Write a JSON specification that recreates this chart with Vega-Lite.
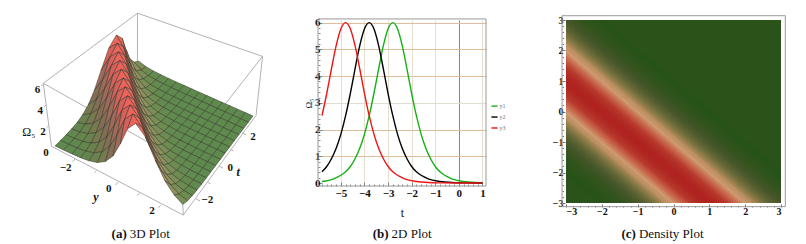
{"$schema":"https://vega.github.io/schema/vega-lite/v6.json","background":"white","padding":{"left":0,"top":11,"right":0,"bottom":0},"spacing":80,"bounds":"flush","config":{"view":{"stroke":null},"axis":{"labelFont":"Liberation Serif","titleFont":"Liberation Serif","labelColor":"#111","titleColor":"#111","titleFontWeight":"normal"}},
"datasets":{"surface":[
{"y":-3,"t":-3,"v":0.008},{"y":-3,"t":-2.6,"v":0.018},{"y":-3,"t":-2.2,"v":0.04},{"y":-3,"t":-1.8,"v":0.088},{"y":-3,"t":-1.4,"v":0.19},{"y":-3,"t":-1,"v":0.42},{"y":-3,"t":-0.6,"v":0.91},{"y":-3,"t":-0.2,"v":1.83},{"y":-3,"t":0.2,"v":3.35},{"y":-3,"t":0.6,"v":5.14},{"y":-3,"t":1,"v":6},{"y":-3,"t":1.4,"v":5.14},{"y":-3,"t":1.8,"v":3.35},{"y":-3,"t":2.2,"v":1.83},{"y":-3,"t":2.6,"v":0.91},{"y":-3,"t":3,"v":0.42},
{"y":-2.6,"t":-3,"v":0.018},{"y":-2.6,"t":-2.6,"v":0.04},{"y":-2.6,"t":-2.2,"v":0.088},{"y":-2.6,"t":-1.8,"v":0.19},{"y":-2.6,"t":-1.4,"v":0.42},{"y":-2.6,"t":-1,"v":0.91},{"y":-2.6,"t":-0.6,"v":1.83},{"y":-2.6,"t":-0.2,"v":3.35},{"y":-2.6,"t":0.2,"v":5.14},{"y":-2.6,"t":0.6,"v":6},{"y":-2.6,"t":1,"v":5.14},{"y":-2.6,"t":1.4,"v":3.35},{"y":-2.6,"t":1.8,"v":1.83},{"y":-2.6,"t":2.2,"v":0.91},{"y":-2.6,"t":2.6,"v":0.42},{"y":-2.6,"t":3,"v":0.19},
{"y":-2.2,"t":-3,"v":0.04},{"y":-2.2,"t":-2.6,"v":0.088},{"y":-2.2,"t":-2.2,"v":0.19},{"y":-2.2,"t":-1.8,"v":0.42},{"y":-2.2,"t":-1.4,"v":0.91},{"y":-2.2,"t":-1,"v":1.83},{"y":-2.2,"t":-0.6,"v":3.35},{"y":-2.2,"t":-0.2,"v":5.14},{"y":-2.2,"t":0.2,"v":6},{"y":-2.2,"t":0.6,"v":5.14},{"y":-2.2,"t":1,"v":3.35},{"y":-2.2,"t":1.4,"v":1.83},{"y":-2.2,"t":1.8,"v":0.91},{"y":-2.2,"t":2.2,"v":0.42},{"y":-2.2,"t":2.6,"v":0.19},{"y":-2.2,"t":3,"v":0.088},
{"y":-1.8,"t":-3,"v":0.088},{"y":-1.8,"t":-2.6,"v":0.19},{"y":-1.8,"t":-2.2,"v":0.42},{"y":-1.8,"t":-1.8,"v":0.91},{"y":-1.8,"t":-1.4,"v":1.83},{"y":-1.8,"t":-1,"v":3.35},{"y":-1.8,"t":-0.6,"v":5.14},{"y":-1.8,"t":-0.2,"v":6},{"y":-1.8,"t":0.2,"v":5.14},{"y":-1.8,"t":0.6,"v":3.35},{"y":-1.8,"t":1,"v":1.83},{"y":-1.8,"t":1.4,"v":0.91},{"y":-1.8,"t":1.8,"v":0.42},{"y":-1.8,"t":2.2,"v":0.19},{"y":-1.8,"t":2.6,"v":0.088},{"y":-1.8,"t":3,"v":0.04},
{"y":-1.4,"t":-3,"v":0.19},{"y":-1.4,"t":-2.6,"v":0.42},{"y":-1.4,"t":-2.2,"v":0.91},{"y":-1.4,"t":-1.8,"v":1.83},{"y":-1.4,"t":-1.4,"v":3.35},{"y":-1.4,"t":-1,"v":5.14},{"y":-1.4,"t":-0.6,"v":6},{"y":-1.4,"t":-0.2,"v":5.14},{"y":-1.4,"t":0.2,"v":3.35},{"y":-1.4,"t":0.6,"v":1.83},{"y":-1.4,"t":1,"v":0.91},{"y":-1.4,"t":1.4,"v":0.42},{"y":-1.4,"t":1.8,"v":0.19},{"y":-1.4,"t":2.2,"v":0.088},{"y":-1.4,"t":2.6,"v":0.04},{"y":-1.4,"t":3,"v":0.018},
{"y":-1,"t":-3,"v":0.42},{"y":-1,"t":-2.6,"v":0.91},{"y":-1,"t":-2.2,"v":1.83},{"y":-1,"t":-1.8,"v":3.35},{"y":-1,"t":-1.4,"v":5.14},{"y":-1,"t":-1,"v":6},{"y":-1,"t":-0.6,"v":5.14},{"y":-1,"t":-0.2,"v":3.35},{"y":-1,"t":0.2,"v":1.83},{"y":-1,"t":0.6,"v":0.91},{"y":-1,"t":1,"v":0.42},{"y":-1,"t":1.4,"v":0.19},{"y":-1,"t":1.8,"v":0.088},{"y":-1,"t":2.2,"v":0.04},{"y":-1,"t":2.6,"v":0.018},{"y":-1,"t":3,"v":0.008},
{"y":-0.6,"t":-3,"v":0.91},{"y":-0.6,"t":-2.6,"v":1.83},{"y":-0.6,"t":-2.2,"v":3.35},{"y":-0.6,"t":-1.8,"v":5.14},{"y":-0.6,"t":-1.4,"v":6},{"y":-0.6,"t":-1,"v":5.14},{"y":-0.6,"t":-0.6,"v":3.35},{"y":-0.6,"t":-0.2,"v":1.83},{"y":-0.6,"t":0.2,"v":0.91},{"y":-0.6,"t":0.6,"v":0.42},{"y":-0.6,"t":1,"v":0.19},{"y":-0.6,"t":1.4,"v":0.088},{"y":-0.6,"t":1.8,"v":0.04},{"y":-0.6,"t":2.2,"v":0.018},{"y":-0.6,"t":2.6,"v":0.008},{"y":-0.6,"t":3,"v":0.004},
{"y":-0.2,"t":-3,"v":1.83},{"y":-0.2,"t":-2.6,"v":3.35},{"y":-0.2,"t":-2.2,"v":5.14},{"y":-0.2,"t":-1.8,"v":6},{"y":-0.2,"t":-1.4,"v":5.14},{"y":-0.2,"t":-1,"v":3.35},{"y":-0.2,"t":-0.6,"v":1.83},{"y":-0.2,"t":-0.2,"v":0.91},{"y":-0.2,"t":0.2,"v":0.42},{"y":-0.2,"t":0.6,"v":0.19},{"y":-0.2,"t":1,"v":0.088},{"y":-0.2,"t":1.4,"v":0.04},{"y":-0.2,"t":1.8,"v":0.018},{"y":-0.2,"t":2.2,"v":0.008},{"y":-0.2,"t":2.6,"v":0.004},{"y":-0.2,"t":3,"v":0.002},
{"y":0.2,"t":-3,"v":3.35},{"y":0.2,"t":-2.6,"v":5.14},{"y":0.2,"t":-2.2,"v":6},{"y":0.2,"t":-1.8,"v":5.14},{"y":0.2,"t":-1.4,"v":3.35},{"y":0.2,"t":-1,"v":1.83},{"y":0.2,"t":-0.6,"v":0.91},{"y":0.2,"t":-0.2,"v":0.42},{"y":0.2,"t":0.2,"v":0.19},{"y":0.2,"t":0.6,"v":0.088},{"y":0.2,"t":1,"v":0.04},{"y":0.2,"t":1.4,"v":0.018},{"y":0.2,"t":1.8,"v":0.008},{"y":0.2,"t":2.2,"v":0.004},{"y":0.2,"t":2.6,"v":0.002},{"y":0.2,"t":3,"v":0.001},
{"y":0.6,"t":-3,"v":5.14},{"y":0.6,"t":-2.6,"v":6},{"y":0.6,"t":-2.2,"v":5.14},{"y":0.6,"t":-1.8,"v":3.35},{"y":0.6,"t":-1.4,"v":1.83},{"y":0.6,"t":-1,"v":0.91},{"y":0.6,"t":-0.6,"v":0.42},{"y":0.6,"t":-0.2,"v":0.19},{"y":0.6,"t":0.2,"v":0.088},{"y":0.6,"t":0.6,"v":0.04},{"y":0.6,"t":1,"v":0.018},{"y":0.6,"t":1.4,"v":0.008},{"y":0.6,"t":1.8,"v":0.004},{"y":0.6,"t":2.2,"v":0.002},{"y":0.6,"t":2.6,"v":0.001},{"y":0.6,"t":3,"v":0.001},
{"y":1,"t":-3,"v":6},{"y":1,"t":-2.6,"v":5.14},{"y":1,"t":-2.2,"v":3.35},{"y":1,"t":-1.8,"v":1.83},{"y":1,"t":-1.4,"v":0.91},{"y":1,"t":-1,"v":0.42},{"y":1,"t":-0.6,"v":0.19},{"y":1,"t":-0.2,"v":0.088},{"y":1,"t":0.2,"v":0.04},{"y":1,"t":0.6,"v":0.018},{"y":1,"t":1,"v":0.008},{"y":1,"t":1.4,"v":0.004},{"y":1,"t":1.8,"v":0.002},{"y":1,"t":2.2,"v":0.001},{"y":1,"t":2.6,"v":0.001},{"y":1,"t":3,"v":0.001},
{"y":1.4,"t":-3,"v":5.14},{"y":1.4,"t":-2.6,"v":3.35},{"y":1.4,"t":-2.2,"v":1.83},{"y":1.4,"t":-1.8,"v":0.91},{"y":1.4,"t":-1.4,"v":0.42},{"y":1.4,"t":-1,"v":0.19},{"y":1.4,"t":-0.6,"v":0.088},{"y":1.4,"t":-0.2,"v":0.04},{"y":1.4,"t":0.2,"v":0.018},{"y":1.4,"t":0.6,"v":0.008},{"y":1.4,"t":1,"v":0.004},{"y":1.4,"t":1.4,"v":0.002},{"y":1.4,"t":1.8,"v":0.001},{"y":1.4,"t":2.2,"v":0.001},{"y":1.4,"t":2.6,"v":0.001},{"y":1.4,"t":3,"v":0.001},
{"y":1.8,"t":-3,"v":3.35},{"y":1.8,"t":-2.6,"v":1.83},{"y":1.8,"t":-2.2,"v":0.91},{"y":1.8,"t":-1.8,"v":0.42},{"y":1.8,"t":-1.4,"v":0.19},{"y":1.8,"t":-1,"v":0.088},{"y":1.8,"t":-0.6,"v":0.04},{"y":1.8,"t":-0.2,"v":0.018},{"y":1.8,"t":0.2,"v":0.008},{"y":1.8,"t":0.6,"v":0.004},{"y":1.8,"t":1,"v":0.002},{"y":1.8,"t":1.4,"v":0.001},{"y":1.8,"t":1.8,"v":0.001},{"y":1.8,"t":2.2,"v":0.001},{"y":1.8,"t":2.6,"v":0.001},{"y":1.8,"t":3,"v":0.001},
{"y":2.2,"t":-3,"v":1.83},{"y":2.2,"t":-2.6,"v":0.91},{"y":2.2,"t":-2.2,"v":0.42},{"y":2.2,"t":-1.8,"v":0.19},{"y":2.2,"t":-1.4,"v":0.088},{"y":2.2,"t":-1,"v":0.04},{"y":2.2,"t":-0.6,"v":0.018},{"y":2.2,"t":-0.2,"v":0.008},{"y":2.2,"t":0.2,"v":0.004},{"y":2.2,"t":0.6,"v":0.002},{"y":2.2,"t":1,"v":0.001},{"y":2.2,"t":1.4,"v":0.001},{"y":2.2,"t":1.8,"v":0.001},{"y":2.2,"t":2.2,"v":0.001},{"y":2.2,"t":2.6,"v":0.001},{"y":2.2,"t":3,"v":0.001},
{"y":2.6,"t":-3,"v":0.91},{"y":2.6,"t":-2.6,"v":0.42},{"y":2.6,"t":-2.2,"v":0.19},{"y":2.6,"t":-1.8,"v":0.088},{"y":2.6,"t":-1.4,"v":0.04},{"y":2.6,"t":-1,"v":0.018},{"y":2.6,"t":-0.6,"v":0.008},{"y":2.6,"t":-0.2,"v":0.004},{"y":2.6,"t":0.2,"v":0.002},{"y":2.6,"t":0.6,"v":0.001},{"y":2.6,"t":1,"v":0.001},{"y":2.6,"t":1.4,"v":0.001},{"y":2.6,"t":1.8,"v":0.001},{"y":2.6,"t":2.2,"v":0.001},{"y":2.6,"t":2.6,"v":0.001},{"y":2.6,"t":3,"v":0.001},
{"y":3,"t":-3,"v":0.42},{"y":3,"t":-2.6,"v":0.19},{"y":3,"t":-2.2,"v":0.088},{"y":3,"t":-1.8,"v":0.04},{"y":3,"t":-1.4,"v":0.018},{"y":3,"t":-1,"v":0.008},{"y":3,"t":-0.6,"v":0.004},{"y":3,"t":-0.2,"v":0.002},{"y":3,"t":0.2,"v":0.001},{"y":3,"t":0.6,"v":0.001},{"y":3,"t":1,"v":0.001},{"y":3,"t":1.4,"v":0.001},{"y":3,"t":1.8,"v":0.001},{"y":3,"t":2.2,"v":0.001},{"y":3,"t":2.6,"v":0.001},{"y":3,"t":3,"v":0.001}
],
"edges":[
{"y1":-3.1,"t1":-3.1,"z1":6.1,"y2":-3.1,"t2":3.1,"z2":6.25},{"y1":-3.1,"t1":3.1,"z1":6.25,"y2":3.1,"t2":3.1,"z2":6.2},{"y1":-3.1,"t1":-3.1,"z1":6.1,"y2":3,"t2":-3,"z2":4.4},{"y1":3.1,"t1":3.1,"z1":6.2,"y2":3,"t2":-3,"z2":4.4},
{"y1":-3.1,"t1":-3.1,"z1":0,"y2":-3.1,"t2":-3.1,"z2":6.1},{"y1":-3.1,"t1":3.1,"z1":0,"y2":-3.1,"t2":3.1,"z2":6.25},{"y1":3.1,"t1":3.1,"z1":0,"y2":3.1,"t2":3.1,"z2":6.2},{"y1":3,"t1":-3,"z1":-0.55,"y2":3,"t2":-3,"z2":4.4},
{"y1":-3.1,"t1":-3.1,"z1":0,"y2":3,"t2":-3,"z2":-0.55},{"y1":3,"t1":-3,"z1":-0.55,"y2":3.1,"t2":3.1,"z2":0},
{"y1":-2,"t1":-3.1,"z1":-0.1,"y2":-2,"t2":-3.3,"z2":-0.1},{"y1":-1,"t1":-3.1,"z1":-0.2,"y2":-1,"t2":-3.25,"z2":-0.2},{"y1":0,"t1":-3.1,"z1":-0.3,"y2":0,"t2":-3.3,"z2":-0.3},{"y1":1,"t1":-3.1,"z1":-0.35,"y2":1,"t2":-3.25,"z2":-0.35},{"y1":2,"t1":-3.1,"z1":-0.45,"y2":2,"t2":-3.3,"z2":-0.45},
{"y1":3.05,"t1":-2,"z1":-0.45,"y2":3.25,"t2":-2,"z2":-0.45},{"y1":3.05,"t1":-1,"z1":-0.35,"y2":3.2,"t2":-1,"z2":-0.35},{"y1":3.05,"t1":0,"z1":-0.3,"y2":3.25,"t2":0,"z2":-0.3},{"y1":3.05,"t1":1,"z1":-0.2,"y2":3.2,"t2":1,"z2":-0.2},{"y1":3.05,"t1":2,"z1":-0.1,"y2":3.25,"t2":2,"z2":-0.1},
{"y1":-3.1,"t1":-3.1,"z1":2,"y2":-3.1,"t2":-3.25,"z2":2},{"y1":-3.1,"t1":-3.1,"z1":4,"y2":-3.1,"t2":-3.25,"z2":4},{"y1":-3.1,"t1":-3.1,"z1":6,"y2":-3.1,"t2":-3.25,"z2":6}
],
"labels":[
{"kind":"tick","label":"−2","y":-2,"t":-3.8,"z":0},{"kind":"tick","label":"0","y":0,"t":-3.8,"z":0},{"kind":"tick","label":"2","y":2,"t":-3.8,"z":0},
{"kind":"tick","label":"−2","y":3.6,"t":-2,"z":0},{"kind":"tick","label":"0","y":3.6,"t":0,"z":0},{"kind":"tick","label":"2","y":3.6,"t":2,"z":0},
{"kind":"tick","label":"0","y":-3.06,"t":-3.56,"z":0},{"kind":"tick","label":"2","y":-3.06,"t":-3.56,"z":2},{"kind":"tick","label":"4","y":-3.06,"t":-3.56,"z":4},{"kind":"tick","label":"6","y":-3.06,"t":-3.56,"z":6},
{"kind":"ital","label":"y","y":-0.18,"t":-4.5,"z":0},{"kind":"ital","label":"t","y":4,"t":0,"z":0},{"kind":"omega","label":"Ω₅","y":-3.47,"t":-3.93,"z":2},
{"kind":"capb","label":"(a)","y":1.77,"t":-5.48,"z":0},{"kind":"capr","label":"3D Plot","y":1.77,"t":-5.48,"z":0}
],
"curves":[
{"s":"g","t":-5.8,"o":0.06},{"s":"g","t":-5.3,"o":0.16},{"s":"g","t":-4.8,"o":0.42},{"s":"g","t":-4.6,"o":0.62},{"s":"g","t":-4.4,"o":0.91},{"s":"g","t":-4.2,"o":1.3},{"s":"g","t":-4,"o":1.83},{"s":"g","t":-3.8,"o":2.52},{"s":"g","t":-3.6,"o":3.35},{"s":"g","t":-3.4,"o":4.27},{"s":"g","t":-3.2,"o":5.14},{"s":"g","t":-3,"o":5.77},{"s":"g","t":-2.8,"o":6},{"s":"g","t":-2.6,"o":5.77},{"s":"g","t":-2.4,"o":5.14},{"s":"g","t":-2.2,"o":4.27},{"s":"g","t":-2,"o":3.35},{"s":"g","t":-1.8,"o":2.52},{"s":"g","t":-1.6,"o":1.83},{"s":"g","t":-1.4,"o":1.3},{"s":"g","t":-1.2,"o":0.91},{"s":"g","t":-1,"o":0.62},{"s":"g","t":-0.8,"o":0.42},{"s":"g","t":-0.3,"o":0.16},{"s":"g","t":0.2,"o":0.06},{"s":"g","t":0.7,"o":0.02},{"s":"g","t":1,"o":0.01},
{"s":"k","t":-5.8,"o":0.42},{"s":"k","t":-5.6,"o":0.62},{"s":"k","t":-5.4,"o":0.91},{"s":"k","t":-5.2,"o":1.3},{"s":"k","t":-5,"o":1.83},{"s":"k","t":-4.8,"o":2.52},{"s":"k","t":-4.6,"o":3.35},{"s":"k","t":-4.4,"o":4.27},{"s":"k","t":-4.2,"o":5.14},{"s":"k","t":-4,"o":5.77},{"s":"k","t":-3.8,"o":6},{"s":"k","t":-3.6,"o":5.77},{"s":"k","t":-3.4,"o":5.14},{"s":"k","t":-3.2,"o":4.27},{"s":"k","t":-3,"o":3.35},{"s":"k","t":-2.8,"o":2.52},{"s":"k","t":-2.6,"o":1.83},{"s":"k","t":-2.4,"o":1.3},{"s":"k","t":-2.2,"o":0.91},{"s":"k","t":-2,"o":0.62},{"s":"k","t":-1.8,"o":0.42},{"s":"k","t":-1.3,"o":0.16},{"s":"k","t":-0.8,"o":0.06},{"s":"k","t":-0.3,"o":0.02},{"s":"k","t":0.2,"o":0.008},{"s":"k","t":1,"o":0.001},
{"s":"r","t":-5.8,"o":2.52},{"s":"r","t":-5.6,"o":3.35},{"s":"r","t":-5.4,"o":4.27},{"s":"r","t":-5.2,"o":5.14},{"s":"r","t":-5,"o":5.77},{"s":"r","t":-4.8,"o":6},{"s":"r","t":-4.6,"o":5.77},{"s":"r","t":-4.4,"o":5.14},{"s":"r","t":-4.2,"o":4.27},{"s":"r","t":-4,"o":3.35},{"s":"r","t":-3.8,"o":2.52},{"s":"r","t":-3.6,"o":1.83},{"s":"r","t":-3.4,"o":1.3},{"s":"r","t":-3.2,"o":0.91},{"s":"r","t":-3,"o":0.62},{"s":"r","t":-2.8,"o":0.42},{"s":"r","t":-2.3,"o":0.16},{"s":"r","t":-1.8,"o":0.06},{"s":"r","t":-1.3,"o":0.02},{"s":"r","t":-0.8,"o":0.008},{"s":"r","t":0.2,"o":0.001},{"s":"r","t":1,"o":0}
],
"strips":[
{"y1":-1,"y2":-9,"v":0.06},{"y1":-0.9,"y2":-8.9,"v":0.07},{"y1":-0.8,"y2":-8.8,"v":0.09},{"y1":-0.7,"y2":-8.7,"v":0.11},{"y1":-0.6,"y2":-8.6,"v":0.13},{"y1":-0.5,"y2":-8.5,"v":0.16},{"y1":-0.4,"y2":-8.4,"v":0.19},{"y1":-0.3,"y2":-8.3,"v":0.23},{"y1":-0.2,"y2":-8.2,"v":0.29},{"y1":-0.1,"y2":-8.1,"v":0.35},{"y1":0,"y2":-8,"v":0.42},{"y1":0.1,"y2":-7.9,"v":0.51},{"y1":0.2,"y2":-7.8,"v":0.62},{"y1":0.3,"y2":-7.7,"v":0.75},{"y1":0.4,"y2":-7.6,"v":0.91},{"y1":0.5,"y2":-7.5,"v":1.08},{"y1":0.6,"y2":-7.4,"v":1.3},{"y1":0.7,"y2":-7.3,"v":1.54},{"y1":0.8,"y2":-7.2,"v":1.83},{"y1":0.9,"y2":-7.1,"v":2.15},{"y1":1,"y2":-7,"v":2.52},{"y1":1.1,"y2":-6.9,"v":2.92},{"y1":1.2,"y2":-6.8,"v":3.35},{"y1":1.3,"y2":-6.7,"v":3.8},{"y1":1.4,"y2":-6.6,"v":4.27},{"y1":1.5,"y2":-6.5,"v":4.72},{"y1":1.6,"y2":-6.4,"v":5.14},{"y1":1.7,"y2":-6.3,"v":5.49},{"y1":1.8,"y2":-6.2,"v":5.77},{"y1":1.9,"y2":-6.1,"v":5.94},{"y1":2,"y2":-6,"v":6},{"y1":2.1,"y2":-5.9,"v":5.94},{"y1":2.2,"y2":-5.8,"v":5.77},{"y1":2.3,"y2":-5.7,"v":5.49},{"y1":2.4,"y2":-5.6,"v":5.14},{"y1":2.5,"y2":-5.5,"v":4.72},{"y1":2.6,"y2":-5.4,"v":4.27},{"y1":2.7,"y2":-5.3,"v":3.8},{"y1":2.8,"y2":-5.2,"v":3.35},{"y1":2.9,"y2":-5.1,"v":2.92},{"y1":3,"y2":-5,"v":2.52},{"y1":3.1,"y2":-4.9,"v":2.15},{"y1":3.2,"y2":-4.8,"v":1.83},{"y1":3.3,"y2":-4.7,"v":1.54},{"y1":3.4,"y2":-4.6,"v":1.3},{"y1":3.5,"y2":-4.5,"v":1.08},{"y1":3.6,"y2":-4.4,"v":0.91},{"y1":3.7,"y2":-4.3,"v":0.75},{"y1":3.8,"y2":-4.2,"v":0.62},{"y1":3.9,"y2":-4.1,"v":0.51},{"y1":4,"y2":-4,"v":0.42},{"y1":4.1,"y2":-3.9,"v":0.35},{"y1":4.2,"y2":-3.8,"v":0.29},{"y1":4.3,"y2":-3.7,"v":0.23},{"y1":4.4,"y2":-3.6,"v":0.19},{"y1":4.5,"y2":-3.5,"v":0.16},{"y1":4.6,"y2":-3.4,"v":0.13},{"y1":4.7,"y2":-3.3,"v":0.11},{"y1":4.8,"y2":-3.2,"v":0.09},{"y1":4.9,"y2":-3.1,"v":0.07},{"y1":5,"y2":-3,"v":0.06}
]},
"hconcat":[
{"width":238,"height":183,"projection":{"type":"identity","scale":1,"translate":[0,0]},"layer":[
{"data":{"name":"edges"},"transform":[
{"calculate":"(datum.y1+3)/6","as":"a1"},{"calculate":"(datum.t1+3)/6","as":"b1"},{"calculate":"(datum.y2+3)/6","as":"a2"},{"calculate":"(datum.t2+3)/6","as":"b2"},
{"calculate":"55+128*datum.a1+83*datum.b1-13*datum.a1*datum.b1+datum.z1*(-1.3+0.8*datum.a1+1.3*datum.b1+0.2*datum.a1*datum.b1)","as":"x1"},
{"calculate":"126+63*datum.a1-81*datum.b1-12*datum.a1*datum.b1-datum.z1*(10.3+0.7*datum.a1-2.3*datum.b1+0.8*datum.a1*datum.b1)","as":"p1"},
{"calculate":"55+128*datum.a2+83*datum.b2-13*datum.a2*datum.b2+datum.z2*(-1.3+0.8*datum.a2+1.3*datum.b2+0.2*datum.a2*datum.b2)","as":"x2"},
{"calculate":"126+63*datum.a2-81*datum.b2-12*datum.a2*datum.b2-datum.z2*(10.3+0.7*datum.a2-2.3*datum.b2+0.8*datum.a2*datum.b2)","as":"p2"},
{"calculate":"{type:'Feature',geometry:{type:'LineString',coordinates:[[datum.x1,datum.p1],[datum.x2,datum.p2]]}}","as":"geo"}],
"mark":{"type":"geoshape","clip":false,"filled":false,"stroke":"#a9a9a9","strokeWidth":0.9},"encoding":{"shape":{"field":"geo","type":"geojson"}}},
{"data":{"name":"surface"},"transform":[
{"calculate":"(datum.y+3)/6","as":"a"},{"calculate":"(datum.t+3)/6","as":"b"},
{"calculate":"55+128*datum.a+83*datum.b-13*datum.a*datum.b+datum.v*(-1.3+0.8*datum.a+3.45*datum.b-1.95*datum.a*datum.b)","as":"px"},
{"calculate":"126+63*datum.a-81*datum.b-12*datum.a*datum.b-datum.v*(10.3+0.7*datum.a-1.2*datum.b-0.3*datum.a*datum.b)","as":"py"},
{"window":[{"op":"lead","field":"px","as":"tx"},{"op":"lead","field":"py","as":"ty"},{"op":"lead","field":"v","as":"vt"}],"groupby":["y"],"sort":[{"field":"t","order":"ascending"}]},
{"window":[{"op":"lead","field":"px","as":"yx"},{"op":"lead","field":"py","as":"yy"},{"op":"lead","field":"v","as":"vy"},{"op":"lead","field":"tx","as":"dx"},{"op":"lead","field":"ty","as":"dy"},{"op":"lead","field":"vt","as":"vd"}],"groupby":["t"],"sort":[{"field":"y","order":"ascending"}]},
{"filter":"isValid(datum.dx)"},
{"calculate":"(datum.y+datum.t+2.4<-0.01?-1:1)*(datum.v+datum.vt+datum.vy+datum.vd)/4","as":"m"},
{"calculate":"datum.y-datum.t","as":"depth"},
{"calculate":"{type:'Feature',geometry:{type:'Polygon',coordinates:[[[datum.px,datum.py],[datum.tx,datum.ty],[datum.dx,datum.dy],[datum.yx,datum.yy],[datum.px,datum.py]]]}}","as":"geo"}],
"mark":{"type":"geoshape","clip":false,"stroke":"#2e2c20","strokeWidth":0.55,"strokeOpacity":0.85},
"encoding":{"shape":{"field":"geo","type":"geojson"},"order":{"field":"depth","type":"quantitative"},
"color":{"field":"m","type":"quantitative","legend":null,"scale":{"domain":[-6,-5,-3.5,-2,-0.6,0,0.6,2,3.5,5,6],"range":["#f0605a","#d8605a","#a06a5c","#826e55","#6b8050","#5e8a4e","#80905a","#a8946a","#c88468","#e86a5e","#f0605a"]}}}},
{"data":{"name":"labels"},"transform":[
{"calculate":"(datum.y+3)/6","as":"a"},{"calculate":"(datum.t+3)/6","as":"b"},
{"calculate":"55+128*datum.a+83*datum.b-13*datum.a*datum.b+datum.z*(-1.3+0.8*datum.a+1.3*datum.b+0.2*datum.a*datum.b)","as":"px"},
{"calculate":"126+63*datum.a-81*datum.b-12*datum.a*datum.b-datum.z*(10.3+0.7*datum.a-2.3*datum.b+0.8*datum.a*datum.b)","as":"py"}],
"layer":[
{"transform":[{"filter":"datum.kind==='tick'"}],"mark":{"type":"text","clip":false,"font":"Liberation Serif","fontSize":11,"fontWeight":"bold","color":"#111"},"encoding":{"longitude":{"field":"px","type":"quantitative"},"latitude":{"field":"py","type":"quantitative"},"text":{"field":"label"}}},
{"transform":[{"filter":"datum.kind==='ital'"}],"mark":{"type":"text","clip":false,"font":"Liberation Serif","fontSize":12,"fontStyle":"italic","fontWeight":"bold","color":"#111"},"encoding":{"longitude":{"field":"px","type":"quantitative"},"latitude":{"field":"py","type":"quantitative"},"text":{"field":"label"}}},
{"transform":[{"filter":"datum.kind==='omega'"}],"mark":{"type":"text","clip":false,"font":"Liberation Serif","fontSize":12,"color":"#111"},"encoding":{"longitude":{"field":"px","type":"quantitative"},"latitude":{"field":"py","type":"quantitative"},"text":{"field":"label"}}},
{"transform":[{"filter":"datum.kind==='capb'"}],"mark":{"type":"text","clip":false,"font":"Liberation Serif","fontSize":13,"fontWeight":"bold","align":"right","color":"#111"},"encoding":{"longitude":{"field":"px","type":"quantitative"},"latitude":{"field":"py","type":"quantitative"},"text":{"field":"label"}}},
{"transform":[{"filter":"datum.kind==='capr'"}],"mark":{"type":"text","clip":false,"font":"Liberation Serif","fontSize":13,"align":"left","dx":3,"color":"#111"},"encoding":{"longitude":{"field":"px","type":"quantitative"},"latitude":{"field":"py","type":"quantitative"},"text":{"field":"label"}}}
]}
]},
{"width":168,"height":166,"resolve":{"axis":{"x":"independent","y":"independent"}},"layer":[
{"data":{"values":[{"x1":-5.97,"x2":1.15,"y1":-0.11,"y2":6.14}]},"mark":{"type":"rect","fill":null,"stroke":"#999","strokeWidth":1,"clip":false},
"encoding":{"x":{"field":"x1","type":"quantitative","scale":{"domain":[-5.97,1.15],"nice":false,"zero":false},
"axis":{"orient":"bottom","title":"t","titleFontSize":12,"titlePadding":9,"values":[-5.8,-5.6,-5.4,-5.2,-5,-4.8,-4.6,-4.4,-4.2,-4,-3.8,-3.6,-3.4,-3.2,-3,-2.8,-2.6,-2.4,-2.2,-2,-1.8,-1.6,-1.4,-1.2,-1,-0.8,-0.6,-0.4,-0.2,0,0.2,0.4,0.6,0.8,1],"labelExpr":"abs(datum.value-round(datum.value))<0.01?format(round(datum.value),'d'):''","labelFontSize":11,"labelFontWeight":"bold","labelPadding":5,"domain":false,"tickColor":"#888","tickSize":{"condition":{"test":"abs(datum.value-round(datum.value))<0.01","value":-4},"value":-2},
"grid":true,"gridColor":{"condition":{"test":"datum.value===0","value":"#8a8a8a"},"value":"#e6dfcf"},"gridOpacity":{"condition":{"test":"abs(datum.value-round(datum.value))<0.01","value":1},"value":0}}},
"x2":{"field":"x2"},
"y":{"field":"y1","type":"quantitative","scale":{"domain":[-0.11,6.1],"nice":false,"zero":false},
"axis":{"orient":"left","title":"Ω₅","titleFontSize":9,"titlePadding":1,"values":[0,0.2,0.4,0.6,0.8,1,1.2,1.4,1.6,1.8,2,2.2,2.4,2.6,2.8,3,3.2,3.4,3.6,3.8,4,4.2,4.4,4.6,4.8,5,5.2,5.4,5.6,5.8,6],"labelExpr":"abs(datum.value-round(datum.value))<0.01?format(round(datum.value),'d'):''","labelFontSize":11,"labelFontWeight":"bold","labelPadding":2,"domain":false,"tickColor":"#888","tickSize":{"condition":{"test":"abs(datum.value-round(datum.value))<0.01","value":-4},"value":-2},
"grid":true,"gridColor":{"condition":{"test":"datum.value===3","value":"#e0ddd5"},"value":"#dcbd9c"},"gridOpacity":{"condition":{"test":"datum.value>0&&abs(datum.value-round(datum.value))<0.01","value":1},"value":0}}},
"y2":{"field":"y2"}}},
{"data":{"name":"curves"},"mark":{"type":"line","interpolate":"monotone","strokeWidth":1.4,"clip":false},"encoding":{"x":{"field":"t","type":"quantitative","axis":null},"y":{"field":"o","type":"quantitative","axis":null},"color":{"field":"s","type":"nominal","legend":null,"scale":{"domain":["g","k","r"],"range":["#16b016","#000000","#f01414"]}}}},
{"data":{"values":[{"s":"g","x1":1.38,"x2":1.64,"o":2.88,"l":"y1"},{"s":"k","x1":1.38,"x2":1.64,"o":2.47,"l":"y2"},{"s":"r","x1":1.38,"x2":1.64,"o":2.06,"l":"y3"}]},"layer":[
{"mark":{"type":"rule","strokeWidth":1.4},"encoding":{"x":{"field":"x1","type":"quantitative","axis":null},"x2":{"field":"x2"},"y":{"field":"o","type":"quantitative","axis":null},"color":{"field":"s","type":"nominal","legend":null}}},
{"mark":{"type":"text","align":"left","dx":2,"font":"Liberation Serif","fontSize":6,"color":"#777"},"encoding":{"x":{"field":"x2","type":"quantitative","axis":null},"y":{"field":"o","type":"quantitative","axis":null},"text":{"field":"l"}}}]},
{"data":{"values":[{"x":-2.98,"y":-1.91,"b":"(b)","r":"2D Plot"}]},"layer":[
{"mark":{"type":"text","align":"right","font":"Liberation Serif","fontSize":13,"fontWeight":"bold","color":"#111"},"encoding":{"x":{"field":"x","type":"quantitative","axis":null},"y":{"field":"y","type":"quantitative","axis":null},"text":{"field":"b"}}},
{"mark":{"type":"text","align":"left","dx":3,"font":"Liberation Serif","fontSize":13,"color":"#111"},"encoding":{"x":{"field":"x","type":"quantitative","axis":null},"y":{"field":"y","type":"quantitative","axis":null},"text":{"field":"r"}}}]}
]},
{"width":215,"height":183,"resolve":{"axis":{"x":"independent","y":"independent"}},"layer":[
{"data":{"values":[{"x1":-3,"x2":3,"y1":-3,"y2":3}]},"mark":{"type":"rect","fill":"#2b5219"},"encoding":{"x":{"field":"x1","type":"quantitative","axis":null,"scale":{"domain":[-3,3],"nice":false}},"x2":{"field":"x2"},"y":{"field":"y1","type":"quantitative","axis":null,"scale":{"domain":[-3,3],"nice":false}},"y2":{"field":"y2"}}},
{"data":{"name":"strips"},"mark":{"type":"rule","strokeWidth":3,"clip":true},"encoding":{"x":{"datum":-4,"type":"quantitative","axis":null},"x2":{"datum":4},"y":{"field":"y1","type":"quantitative","axis":null},"y2":{"field":"y2"},"color":{"field":"v","type":"quantitative","legend":null,"scale":{"domain":[0.1,0.4,1,1.8,2.5,3.5,4.7,6],"range":["#2b5319","#45562a","#76703f","#ba8e60","#cf9a70","#c8664e","#b83a2e","#b02320"]}}}},
{"data":{"values":[{"x1":-3.11,"x2":3.12,"y1":-3.12,"y2":3.14}]},"mark":{"type":"rect","fill":null,"stroke":"#999","strokeWidth":1,"clip":false},
"encoding":{"x":{"field":"x1","type":"quantitative","axis":{"orient":"bottom","offset":4,"title":null,"values":[-3,-2.8,-2.6,-2.4,-2.2,-2,-1.8,-1.6,-1.4,-1.2,-1,-0.8,-0.6,-0.4,-0.2,0,0.2,0.4,0.6,0.8,1,1.2,1.4,1.6,1.8,2,2.2,2.4,2.6,2.8,3],"labelExpr":"abs(datum.value-round(datum.value))<0.01?format(round(datum.value),'d'):''","labelFontSize":10,"labelFontWeight":"bold","labelPadding":2,"domain":false,"grid":false,"tickColor":"#777","tickSize":{"condition":{"test":"abs(datum.value-round(datum.value))<0.01","value":-3},"value":-1.5}}},"x2":{"field":"x2"},
"y":{"field":"y1","type":"quantitative","axis":{"orient":"left","offset":4,"title":null,"values":[-3,-2.8,-2.6,-2.4,-2.2,-2,-1.8,-1.6,-1.4,-1.2,-1,-0.8,-0.6,-0.4,-0.2,0,0.2,0.4,0.6,0.8,1,1.2,1.4,1.6,1.8,2,2.2,2.4,2.6,2.8,3],"labelExpr":"abs(datum.value-round(datum.value))<0.01?format(round(datum.value),'d'):''","labelFontSize":10,"labelFontWeight":"bold","labelPadding":2,"domain":false,"grid":false,"tickColor":"#777","tickSize":{"condition":{"test":"abs(datum.value-round(datum.value))<0.01","value":-3},"value":-1.5}}},"y2":{"field":"y2"}}},
{"data":{"values":[{"x":-1.05,"y":-4.02,"b":"(c)","r":"Density Plot"}]},"layer":[
{"mark":{"type":"text","align":"right","font":"Liberation Serif","fontSize":13,"fontWeight":"bold","color":"#111"},"encoding":{"x":{"field":"x","type":"quantitative","axis":null},"y":{"field":"y","type":"quantitative","axis":null},"text":{"field":"b"}}},
{"mark":{"type":"text","align":"left","dx":3,"font":"Liberation Serif","fontSize":13,"color":"#111"},"encoding":{"x":{"field":"x","type":"quantitative","axis":null},"y":{"field":"y","type":"quantitative","axis":null},"text":{"field":"r"}}}]}
]}
]}
